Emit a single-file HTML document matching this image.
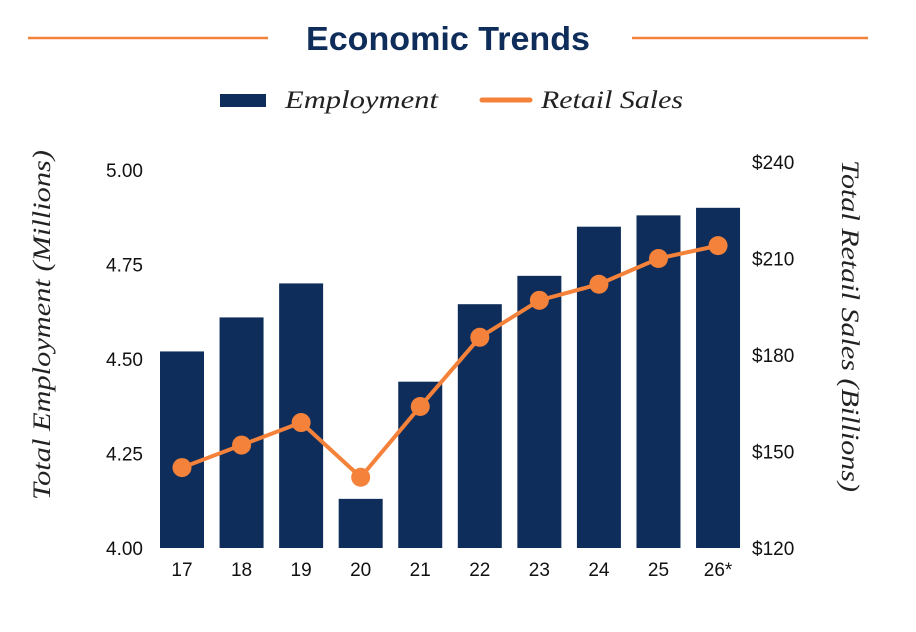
<!DOCTYPE html>
<html><head><meta charset="utf-8"><style>
html,body{margin:0;padding:0;background:#fff;}
svg{display:block;}
</style></head><body>
<svg id="chart" width="916" height="632" xmlns="http://www.w3.org/2000/svg">
<line x1="28" y1="38" x2="268" y2="38" stroke="#f4823a" stroke-width="2.5"/>
<line x1="632" y1="38" x2="868" y2="38" stroke="#f4823a" stroke-width="2.5"/>
<text x="448" y="50" text-anchor="middle" textLength="284" lengthAdjust="spacingAndGlyphs" font-family="Liberation Sans, sans-serif" font-weight="bold" font-size="33" fill="#0f2d5a">Economic Trends</text>
<g>
<rect x="220" y="94" width="46" height="13" fill="#0f2d5a"/>
<text x="285" y="108" textLength="153" lengthAdjust="spacingAndGlyphs" font-family="Liberation Serif, serif" font-style="italic" font-size="25" fill="#222">Employment</text>
<line x1="482" y1="100" x2="530" y2="100" stroke="#f4823a" stroke-width="5" stroke-linecap="round"/>
<text x="541" y="108" textLength="142" lengthAdjust="spacingAndGlyphs" font-family="Liberation Serif, serif" font-style="italic" font-size="25" fill="#222">Retail Sales</text>
</g>
<text transform="translate(50,325) rotate(-90)" text-anchor="middle" textLength="350" lengthAdjust="spacingAndGlyphs" font-family="Liberation Serif, serif" font-style="italic" font-size="25" fill="#222">Total Employment (Millions)</text>
<text transform="translate(842,326) rotate(90)" text-anchor="middle" textLength="332" lengthAdjust="spacingAndGlyphs" font-family="Liberation Serif, serif" font-style="italic" font-size="25" fill="#222">Total Retail Sales (Billions)</text>
<g id="plot"></g>
</svg>
<script>
const categories = ["17","18","19","20","21","22","23","24","25","26*"];
const employment = [4.52,4.61,4.70,4.13,4.44,4.645,4.72,4.85,4.88,4.90];
const retailSales = [145,152,159,142,164,185.5,197,202,210,214];
const leftTicks = [4.00,4.25,4.50,4.75,5.00];
const leftTickLabels = ["4.00","4.25","4.50","4.75","5.00"];
const rightTicks = [120,150,180,210,240];
const rightTickLabels = ["$120","$150","$180","$210","$240"];

const NS="http://www.w3.org/2000/svg";
const g=document.getElementById('plot');
const yL=v=>548-(v-4)*378;
const yR=v=>548-(v-120)*(386/120);
const xC=i=>182+i*59.56;
function mk(t,a){const e=document.createElementNS(NS,t);for(const k in a)e.setAttribute(k,a[k]);g.appendChild(e);return e;}
leftTicks.forEach((v,i)=>{
  const t=mk('text',{x:143,y:yL(v)+7,'text-anchor':'end','font-family':'Liberation Sans, sans-serif','font-size':'19',fill:'#111'});
  
  
  t.textContent=leftTickLabels[i];
});
rightTicks.forEach((v,i)=>{
  const t=mk('text',{x:752,y:yR(v)+7,'font-family':'Liberation Sans, sans-serif','font-size':'19',fill:'#111'});
  
  
  t.textContent=rightTickLabels[i];
});
categories.forEach((c,i)=>{
  const r=mk('rect',{x:xC(i)-22,y:yL(employment[i]),width:44,height:548-yL(employment[i]),fill:'#0f2d5a'});
  
  
  const t=mk('text',{x:xC(i),y:576,'text-anchor':'middle','font-family':'Liberation Sans, sans-serif','font-size':'19',fill:'#111'});
  
  
  t.textContent=c;
});
const pts=retailSales.map((v,i)=>xC(i)+','+yR(v)).join(' ');
const pl=mk('polyline',{points:pts,fill:'none',stroke:'#f4823a','stroke-width':'4'});


retailSales.forEach((v,i)=>{
  const c=mk('circle',{cx:xC(i),cy:yR(v),r:9.5,fill:'#f4823a'});
  
  
});
</script>
</body></html>
